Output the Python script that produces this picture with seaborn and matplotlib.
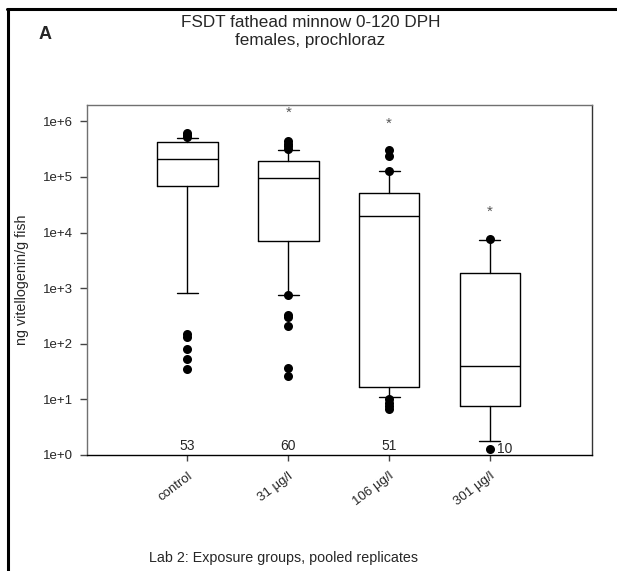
import numpy as np
import pandas as pd
import matplotlib
matplotlib.use("Agg")
import matplotlib.pyplot as plt
from matplotlib.lines import Line2D
import seaborn as sns

# ---- data ----
groups = ["control", "31 µg/l", "106 µg/l", "301 µg/l"]
n_labels = ["53", "60", "51", "10"]
q1 = [7.0e4, 7.1e3, 17.0, 7.6]
med = [2.08e5, 9.7e4, 2.0e4, 40.0]
q3 = [4.2e5, 1.92e5, 5.1e4, 1.9e3]
whislo = [830.0, 755.0, 10.9, 1.79]
whishi = [4.97e5, 3.06e5, 1.28e5, 7.4e3]
out_control = [5.2e5, 5.7e5, 6.2e5, 150.0, 130.0, 80.0, 53.0, 35.0]
out_31 = [3.2e5, 3.6e5, 4.0e5, 4.4e5, 740.0, 330.0, 300.0, 205.0, 36.0, 26.0]
out_106 = [1.3e5, 2.4e5, 3.0e5, 10.3, 8.5, 7.5, 6.6]
out_301 = [7.8e3, 1.3]
star_groups = ["31 µg/l", "106 µg/l", "301 µg/l"]
star_y = [1.45e6, 9.2e5, 2.4e4]

sns.set_style("ticks")
plt.rcParams["font.family"] = ["Liberation Sans", "DejaVu Sans"]

fig = plt.figure(figsize=(6.17, 5.71), dpi=100)
ax = fig.add_axes([0.1405, 0.2032, 0.959 - 0.1405, 0.8161 - 0.2032])

stats = []
for i, g in enumerate(groups):
    stats.append(dict(label=g, q1=q1[i], med=med[i], q3=q3[i],
                      whislo=whislo[i], whishi=whishi[i], fliers=[]))
ax.bxp(stats, positions=list(range(len(groups))), widths=0.6,
       showfliers=False, capwidths=0.21,
       boxprops=dict(color="black", linewidth=1.0),
       medianprops=dict(color="black", linewidth=1.0),
       whiskerprops=dict(color="black", linewidth=1.0),
       capprops=dict(color="black", linewidth=1.0))

outs = [out_control, out_31, out_106, out_301]
df = pd.DataFrame({
    "group": [g for g, o in zip(groups, outs) for _ in o],
    "value": [v for o in outs for v in o],
})
sns.stripplot(data=df, x="group", y="value", order=groups, jitter=False,
              color="black", size=6.5, linewidth=0, ax=ax, zorder=5,
              log_scale=True)

ax.set_yscale("log")
ax.set_ylim(1, 1.97e6)
ax.set_xlim(-1.0, 4.01)
ax.set_yticks([1e0, 1e1, 1e2, 1e3, 1e4, 1e5, 1e6])
ax.set_yticklabels(["1e+0", "1e+1", "1e+2", "1e+3", "1e+4", "1e+5", "1e+6"])
ax.yaxis.set_minor_locator(matplotlib.ticker.NullLocator())
ax.set_xticks(range(len(groups)))
ax.set_xticklabels(groups, rotation=37, ha="right", rotation_mode="anchor")
ax.tick_params(axis="y", direction="out", length=5, width=1, labelsize=9.5, pad=5, color="#444444")
ax.tick_params(axis="x", direction="out", length=4, width=1, labelsize=9.5, pad=7, color="#444444")
ax.set_xlabel("")
ax.set_ylabel("ng vitellogenin/g fish", fontsize=10.3, labelpad=10)

for side, col in [("top", "#707070"), ("left", "#707070"), ("right", "#333333"), ("bottom", "black")]:
    ax.spines[side].set_visible(True)
    ax.spines[side].set_color(col)
    ax.spines[side].set_linewidth(1.0)

# n labels
for i, t in enumerate(n_labels):
    if i == 3:
        ax.text(3.15, 1.28, t, ha="center", va="center", fontsize=10)
    else:
        ax.text(i, 1.47, t, ha="center", va="center", fontsize=10)

# significance stars
for g, y in zip(star_groups, star_y):
    ax.text(groups.index(g), y, "*", ha="center", va="center", fontsize=11, color="#555555")

fig.text(0.503, 0.974, "FSDT fathead minnow 0-120 DPH\nfemales, prochloraz",
         ha="center", va="top", fontsize=12.3, linespacing=1.3)
fig.text(0.063, 0.94, "A", ha="left", va="center", fontsize=13, fontweight="bold")
fig.text(0.459, 0.022, "Lab 2: Exposure groups, pooled replicates",
         ha="center", va="center", fontsize=10.3)

# panel border (left and top only)
fig.add_artist(Line2D([7.5 / 617, 7.5 / 617], [0, 1 - 9 / 571], transform=fig.transFigure,
                      color="black", linewidth=2.2))
fig.add_artist(Line2D([6.5 / 617, 1], [1 - 9 / 571, 1 - 9 / 571], transform=fig.transFigure,
                      color="black", linewidth=2.2))

fig.savefig("out.png", dpi=100)
